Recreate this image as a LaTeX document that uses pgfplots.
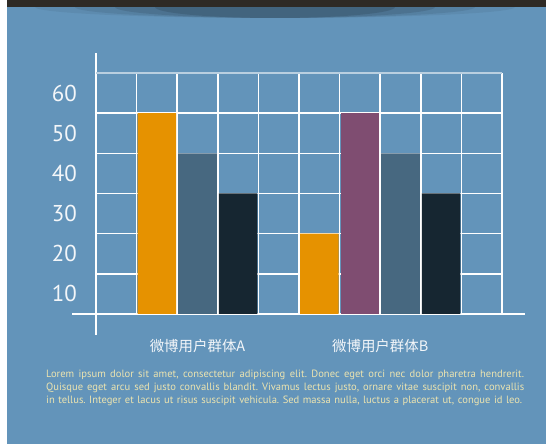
\documentclass[border=0pt]{standalone}
\usepackage{pgfplots}
\pgfplotsset{compat=1.18}
\usepackage{fontspec}
\setmainfont{PT Sans}
\newfontfamily\cjk{Noto Sans CJK SC}

\definecolor{bg}{RGB}{99,148,186}
\definecolor{barorange}{RGB}{230,146,0}
\definecolor{barslate}{RGB}{71,104,128}
\definecolor{barnavy}{RGB}{22,38,49}
\definecolor{barpurple}{RGB}{127,77,113}
\definecolor{banner}{RGB}{46,42,37}
\definecolor{loremtxt}{RGB}{236,228,176}

\begin{document}
\frenchspacing
\begin{tikzpicture}[x=1bp,y=1bp]
\clip (0,0) rectangle (546,444);
\fill[white] (0,0) rectangle (546,444);
\fill[bg] (7,0) rectangle (546,444);
% shadow under the banner
\begin{scope}
\clip (7,0) rectangle (546,437);
\foreach \r/\o in {240/0.06,200/0.08,160/0.10,120/0.12} {
  \fill[black,opacity=\o] (275,437) ellipse ({\r} and 11);
}
\end{scope}
\fill[banner] (7,437) rectangle (546,444);

\begin{axis}[
    at={(96bp,130bp)}, anchor=south west,
    scale only axis, width=406bp, height=241bp,
    xmin=0, xmax=10, ymin=5, ymax=65,
    axis lines=left,
    axis line style={white, line width=2bp, -},
    x axis line style={shorten <=-24bp, shorten >=-23bp},
    y axis line style={shorten <=-21bp, shorten >=-20bp},
    xtick={2.5,7}, xticklabels={{\cjk 微博用户群体A},{\cjk 微博用户群体B}},
    ytick={10,20,...,60},
    minor xtick={1,2,...,10}, minor ytick={15,25,...,55},
    extra y ticks={65}, extra y tick labels={},
    extra y tick style={grid=major, major grid style={white!55!bg, line width=1.2bp}},
    xminorgrids=true, yminorgrids=true,
    minor grid style={white, line width=1.6bp},
    major tick length=0pt, minor tick length=0pt,
    /pgf/number format/assume math mode=true,
    yticklabel style={anchor=east, inner sep=0pt, xshift=-19bp,
        font=\fontsize{23}{23}\selectfont, text=white!92!bg},
    xticklabel style={anchor=center, inner sep=0pt, yshift=-32bp,
        font=\fontsize{14.5}{14.5}\selectfont, text=white!92!bg},
]
\addplot[ybar, bar width=0.95, bar shift=0pt, fill=barorange, draw=none]
    coordinates {(1.5,55) (5.5,25)};
\addplot[ybar, bar width=0.95, bar shift=0pt, fill=barslate, draw=none]
    coordinates {(2.5,45) (7.5,45)};
\addplot[ybar, bar width=0.95, bar shift=0pt, fill=barnavy, draw=none]
    coordinates {(3.5,35) (8.5,35)};
\addplot[ybar, bar width=0.95, bar shift=0pt, fill=barpurple, draw=none]
    coordinates {(6.5,55)};
\end{axis}

\begin{scope}[font=\fontsize{10.6}{12}\selectfont, text=loremtxt]
\node[anchor=base west, inner sep=0pt] at (46,66) {\makebox[478bp][s]{Lorem ipsum dolor sit amet, consectetur adipiscing elit. Donec eget orci nec dolor pharetra hendrerit.}};
\node[anchor=base west, inner sep=0pt] at (46,53) {\makebox[478bp][s]{Quisque eget arcu sed justo convallis blandit. Vivamus lectus justo, ornare vitae suscipit non, convallis}};
\node[anchor=base west, inner sep=0pt] at (46,40) {\makebox[476bp][s]{in tellus. Integer et lacus ut risus suscipit vehicula. Sed massa nulla, luctus a placerat ut, congue id leo.}};
\end{scope}
\end{tikzpicture}
\end{document}
